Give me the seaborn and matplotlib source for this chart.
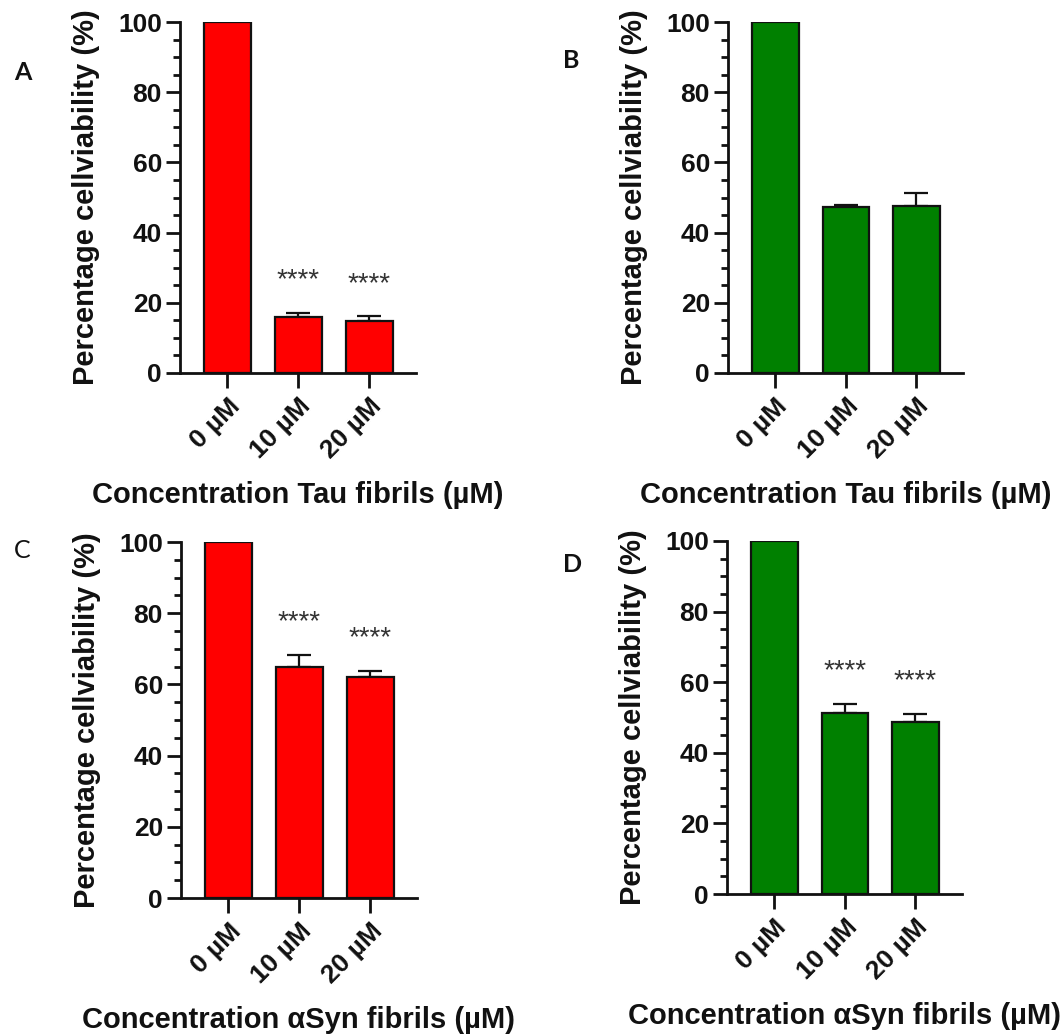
#!/usr/bin/env python3

import matplotlib

matplotlib.use("Agg")
import matplotlib.pylab as plt
import pandas as pd
import seaborn as sns
from matplotlib.ticker import MultipleLocator

sns.set_theme(style="ticks")
plt.rcParams["font.family"] = ["Liberation Sans", "DejaVu Sans"]

# Data (mean and upper error, % of control)
doses = ["0 µM", "10 µM", "20 µM"]

tau_red_mean = [100, 15.9, 14.8]
tau_red_err = [0, 1.3, 1.4]
tau_green_mean = [100, 47.4, 47.6]
tau_green_err = [0, 0.5, 3.8]
asyn_red_mean = [100, 65.0, 62.2]
asyn_red_err = [0, 3.2, 1.6]
asyn_green_mean = [100, 51.3, 48.8]
asyn_green_err = [0, 2.6, 2.2]

stars_sig = ["", "****", "****"]
stars_none = ["", "", ""]

panel_letters = ["A", "B", "C", "D"]
xlabels = [
    "Concentration Tau fibrils (µM)",
    "Concentration Tau fibrils (µM)",
    "Concentration αSyn fibrils (µM)",
    "Concentration αSyn fibrils (µM)",
]
ylabel = "Percentage cellviability (%)"

RED = "#ff0000"
GREEN = "#008000"
INK = "#111111"


def draw_panel(ax, means, errs, stars, color, xlabel):
    df = pd.DataFrame({"dose": doses, "viability": means})
    sns.barplot(
        df,
        ax=ax,
        x="dose",
        y="viability",
        order=doses,
        color=color,
        saturation=1,
        width=0.66,
        edgecolor=INK,
        linewidth=1.6,
        errorbar=None,
        zorder=3,
    )
    xs = list(range(len(doses)))
    # GraphPad style: only the upper half of the error bar
    ax.errorbar(
        xs[1:],
        means[1:],
        yerr=[[0] * (len(xs) - 1), errs[1:]],
        fmt="none",
        ecolor=INK,
        elinewidth=1.6,
        capsize=8.5,
        capthick=1.6,
        zorder=2,
    )
    for x, m, e, s in zip(xs, means, errs, stars):
        if s:
            ax.text(x, m + e + 5.5, s, ha="center", va="bottom",
                    fontsize=20, color="#333333")

    ax.set_xlim(-0.67, 2.66)
    ax.set_ylim(0, 100)
    ax.yaxis.set_major_locator(MultipleLocator(20))
    ax.yaxis.set_minor_locator(MultipleLocator(5))
    ax.tick_params(axis="y", which="major", length=10, width=2, labelsize=19,
                   pad=3, colors=INK)
    ax.tick_params(axis="y", which="minor", length=5, width=2, colors=INK)
    ax.tick_params(axis="x", which="major", length=11, width=2, labelsize=19,
                   pad=4, colors=INK)
    for lbl in ax.get_yticklabels() + ax.get_xticklabels():
        lbl.set_fontweight("bold")
    for lbl in ax.get_xticklabels():
        lbl.set_rotation(45)
        lbl.set_ha("right")
        lbl.set_rotation_mode("anchor")

    sns.despine(ax=ax)
    for side in ["left", "bottom"]:
        ax.spines[side].set_linewidth(2)
        ax.spines[side].set_color(INK)
        ax.spines[side].set_zorder(4)

    ax.set_ylabel(ylabel, fontsize=21, fontweight="bold", labelpad=13, color=INK)
    ax.set_xlabel(xlabel, fontsize=21, fontweight="bold", labelpad=13, color=INK)


fig = plt.figure(figsize=(10.62, 10.36), dpi=100)
W, H = 1062.0, 1036.0

# axes boxes in pixels: left, top, right, bottom
boxes = [
    (180, 22, 416, 373),
    (728, 22, 963, 373),
    (181, 542, 417, 898),
    (727, 541, 962, 894),
]
panels = [
    (tau_red_mean, tau_red_err, stars_sig, RED),
    (tau_green_mean, tau_green_err, stars_none, GREEN),
    (asyn_red_mean, asyn_red_err, stars_sig, RED),
    (asyn_green_mean, asyn_green_err, stars_sig, GREEN),
]

for (l, t, r, b), (means, errs, stars, color), xl in zip(boxes, panels, xlabels):
    ax = fig.add_axes([l / W, 1 - b / H, (r - l) / W, (b - t) / H])
    draw_panel(ax, means, errs, stars, color, xl)

# panel letters
letter_pos = [(23, 73), (571, 60), (22, 550), (573, 564)]
letter_weight = ["bold", "bold", "normal", "bold"]
for letter, (x, y), wgt in zip(panel_letters, letter_pos, letter_weight):
    fig.text(x / W, 1 - y / H, letter, fontsize=18, fontweight=wgt,
             family=["Lato", "DejaVu Sans"], ha="center", va="center", color=INK)

plt.savefig("out.png", dpi=100)
